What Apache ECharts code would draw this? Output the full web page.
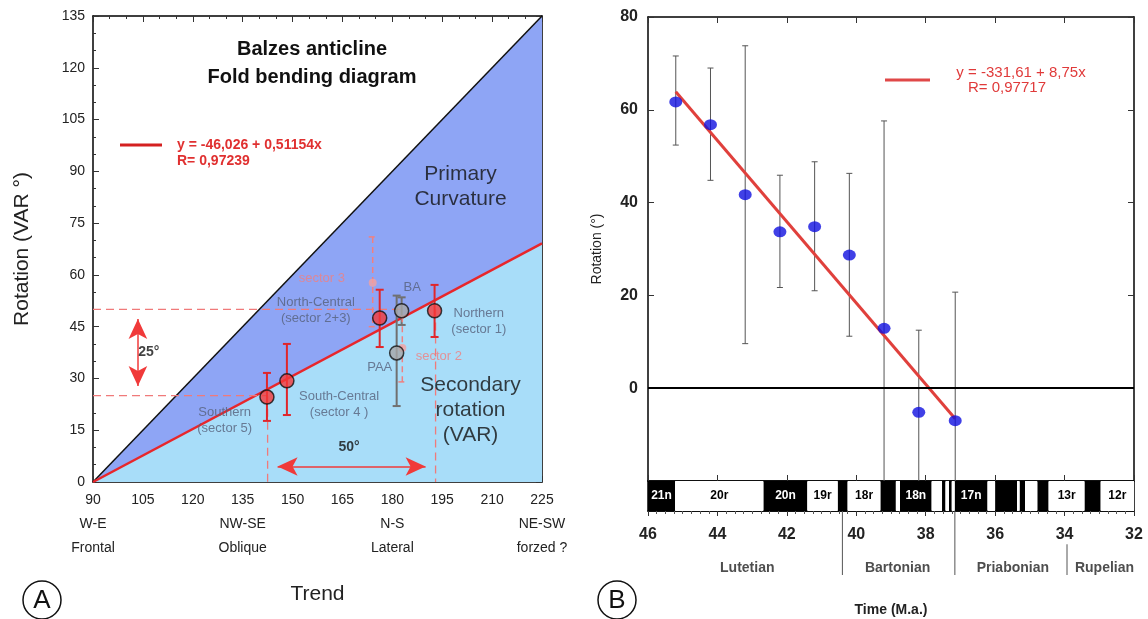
<!DOCTYPE html>
<html>
<head>
<meta charset="utf-8">
<script src="https://cdn.jsdelivr.net/npm/echarts@6/dist/echarts.min.js"></script>
<style>
html, body { margin: 0; padding: 0; background: #fff; }
#chart { width: 1148px; height: 619px; }
</style>
</head>
<body>
<div id="chart"></div>
<script>
// ---- panel A : fold bending diagram ----
var trendTicks = [90, 135, 180, 225];
var trendNames = ['W-E', 'NW-SE', 'N-S', 'NE-SW'];
var trendTypes = ['Frontal', 'Oblique', 'Lateral', 'forzed ?'];

var diagLine = [[90, 0], [225, 135]];
var fitLineA = [[90, 0], [225, 69.1]];

// trend, rotation, low, high
var sectorNames = ['Southern', 'South-Central', 'North-Central', 'Northern'];
var sectorTrend = [142.3, 148.3, 176.2, 192.7];
var sectorRot = [24.6, 29.3, 47.5, 49.6];
var sectorLow = [17.7, 19.4, 39.1, 42];
var sectorHigh = [31.6, 40, 55.7, 57.1];

var siteNames = ['BA', 'PAA'];
var siteTrend = [182.8, 181.3];
var siteRot = [49.6, 37.4];
var siteLow = [45.5, 22];
var siteHigh = [53.5, 54];

var subNames = ['sector 3', 'sector 2'];
var subTrend = [174.1, 183];
var subRot = [57.7, 38.8];
var subLow = [45, 29];
var subHigh = [71, 48];

var guidesA = [
    [[90, 50], [183, 50]],
    [[90, 25], [142.5, 25]],
    [[142.5, 25], [142.5, 0]],
    [[193, 50], [193, 0]]
];

// ---- panel B : rotation vs time ----
var ageB = [45.2, 44.2, 43.2, 42.2, 41.2, 40.2, 39.2, 38.2, 37.15];
var rotB = [61.7, 56.8, 41.7, 33.7, 34.8, 28.7, 12.9, -5.2, -7];
var lowB = [52.4, 44.8, 9.6, 21.7, 21, 11.2, -20, -20, -20];
var highB = [71.6, 69, 73.8, 45.9, 48.8, 46.3, 57.6, 12.5, 20.7];
var fitLineB = [[45.2, 63.9], [37.15, -6.6]];

var chronBounds = [46, 45.22, 42.67, 41.41, 40.53, 40.25, 39.3, 38.86, 38.74, 37.83, 37.53, 37.43,
    37.33, 37.25, 37.16, 36.22, 36.0, 35.37, 35.29, 35.14, 34.78, 34.46, 33.42, 32.96, 32];
var chronNormal = [1, 0, 1, 0, 1, 0, 1, 0, 1, 0, 1, 0, 1, 0, 1, 0, 1, 0, 1, 0, 1, 0, 1, 0];
var chronLabels = ['21n', '20r', '20n', '19r', '', '18r', '', '', '18n', '', '', '', '', '', '17n',
    '', '', '', '', '', '', '13r', '', '12r'];

var stageNames = ['Lutetian', 'Bartonian', 'Priabonian', 'Rupelian'];
var stageCenters = [43.14, 38.81, 35.49, 32.85];
var stageBounds = [40.4, 37.16, 33.93];
var stageBoundTop = [1, 1, 0.48];

var FONT = 'Liberation Sans, Arial, sans-serif';

function zip2(a, b) {
    return a.map(function (v, i) { return [v, b[i]]; });
}

function errorBars(color, width, cap, dash, minY) {
    return function (params, api) {
        var x = api.value(0);
        var top = api.coord([x, api.value(2)]);
        var bot = api.coord([x, api.value(1)]);
        var style = { stroke: color, lineWidth: width, lineDash: dash };
        var kids = [
            { type: 'line', shape: { x1: top[0], y1: top[1], x2: bot[0], y2: bot[1] }, style: style },
            { type: 'line', shape: { x1: top[0] - cap, y1: top[1], x2: top[0] + cap, y2: top[1] }, style: style }
        ];
        if (api.value(1) > minY) {
            kids.push({ type: 'line', shape: { x1: bot[0] - cap, y1: bot[1], x2: bot[0] + cap, y2: bot[1] }, style: style });
        }
        return { type: 'group', children: kids };
    };
}

function errData(xs, lo, hi) {
    return xs.map(function (x, i) { return [x, lo[i], hi[i]]; });
}

function textPoints(xs, ys, names) {
    return xs.map(function (x, i) { return { value: [x, ys[i]], name: names[i] }; });
}

var chart = echarts.init(document.getElementById('chart'));

var frameLine = { show: true, onZero: false, lineStyle: { color: '#000', width: 1.5 } };
var tickIn = { show: true, inside: true, length: 6, lineStyle: { color: '#333' } };
var minorIn = { show: true, splitNumber: 3, length: 3, lineStyle: { color: '#333' } };

var option = {
    animation: false,
    textStyle: { fontFamily: FONT },
    title: {
        text: 'Balzes anticline\nFold bending diagram',
        left: 307, top: 30, textAlign: 'center',
        textStyle: { fontSize: 20, fontWeight: 'bold', color: '#111', lineHeight: 28, fontFamily: FONT }
    },
    grid: [
        { left: 93, top: 16, width: 449, height: 466 },
        { left: 648, top: 17, width: 486, height: 464 },
        { left: 648, top: 481, width: 486, height: 30, show: true, borderColor: '#000', borderWidth: 1.5 },
        { left: 648, top: 511, width: 486, height: 64 }
    ],
    xAxis: [
        {
            gridIndex: 0, type: 'value', min: 90, max: 225, interval: 15, position: 'bottom',
            axisLine: frameLine, axisTick: tickIn, minorTick: minorIn, splitLine: { show: false },
            axisLabel: {
                margin: 6, fontSize: 14, color: '#222', lineHeight: 24,
                formatter: function (v) {
                    var k = trendTicks.indexOf(v);
                    return k < 0 ? String(v) : v + '\n' + trendNames[k] + '\n' + trendTypes[k];
                }
            },
            name: 'Trend', nameLocation: 'middle', nameGap: 102,
            nameTextStyle: { fontSize: 21, color: '#222' }
        },
        {
            gridIndex: 0, type: 'value', min: 90, max: 225, interval: 15, position: 'top',
            axisLine: frameLine, axisTick: tickIn, minorTick: minorIn, splitLine: { show: false },
            axisLabel: { show: false }
        },
        {
            gridIndex: 1, type: 'value', min: 32, max: 46, interval: 2, inverse: true, position: 'bottom',
            axisLine: frameLine, axisTick: tickIn, splitLine: { show: false }, axisLabel: { show: false }
        },
        {
            gridIndex: 1, type: 'value', min: 32, max: 46, interval: 2, inverse: true, position: 'top',
            axisLine: frameLine, axisTick: tickIn, splitLine: { show: false }, axisLabel: { show: false }
        },
        {
            gridIndex: 2, type: 'value', min: 32, max: 46, interval: 2, inverse: true, position: 'bottom',
            axisLine: frameLine,
            axisTick: { show: true, length: 5, lineStyle: { color: '#333' } },
            minorTick: { show: true, splitNumber: 8, length: 3, lineStyle: { color: '#555' } },
            splitLine: { show: false },
            axisLabel: { margin: 16, fontSize: 16, fontWeight: 'bold', color: '#222' },
            name: 'Time (M.a.)', nameLocation: 'middle', nameGap: 92,
            nameTextStyle: { fontSize: 14, fontWeight: 'bold', color: '#222' }
        },
        {
            gridIndex: 3, type: 'value', min: 32, max: 46, inverse: true, show: false
        }
    ],
    yAxis: [
        {
            gridIndex: 0, type: 'value', min: 0, max: 135, interval: 15, position: 'left',
            axisLine: frameLine, axisTick: tickIn, minorTick: minorIn, splitLine: { show: false },
            axisLabel: { margin: 8, fontSize: 14, color: '#222' },
            name: 'Rotation (VAR °)', nameLocation: 'middle', nameGap: 60,
            nameTextStyle: { fontSize: 21, color: '#222' }
        },
        {
            gridIndex: 0, type: 'value', min: 0, max: 135, interval: 15, position: 'right',
            axisLine: frameLine, axisTick: tickIn, minorTick: minorIn, splitLine: { show: false },
            axisLabel: { show: false }
        },
        {
            gridIndex: 1, type: 'value', min: -20, max: 80, interval: 20, position: 'left',
            axisLine: frameLine, axisTick: tickIn, splitLine: { show: false },
            axisLabel: {
                margin: 10, fontSize: 16, fontWeight: 'bold', color: '#222',
                formatter: function (v) { return v < 0 ? '' : String(v); }
            },
            name: 'Rotation (°)', nameLocation: 'middle', nameGap: 44,
            nameTextStyle: { fontSize: 14, color: '#222' }
        },
        {
            gridIndex: 1, type: 'value', min: -20, max: 80, interval: 20, position: 'right',
            axisLine: frameLine, axisTick: tickIn, splitLine: { show: false }, axisLabel: { show: false }
        },
        { gridIndex: 2, type: 'value', min: 0, max: 1, show: false },
        { gridIndex: 3, type: 'value', min: 0, max: 1, show: false }
    ],
    series: []
};

var s = option.series;

// panel A fills
s.push({
    type: 'line', xAxisIndex: 0, yAxisIndex: 0, data: diagLine, symbol: 'none', z: 1,
    lineStyle: { color: '#111', width: 1.5 },
    areaStyle: { color: '#8ea5f5', opacity: 1 }
});
s.push({
    type: 'line', xAxisIndex: 0, yAxisIndex: 0, data: fitLineA, symbol: 'none', z: 2,
    lineStyle: { color: '#e8262b', width: 2.5 },
    areaStyle: { color: '#a8ddf9', opacity: 1 }
});

guidesA.forEach(function (seg) {
    s.push({
        type: 'line', xAxisIndex: 0, yAxisIndex: 0, data: seg, symbol: 'none', z: 3,
        lineStyle: { color: '#f07a7a', width: 1.3, type: [8, 5] }
    });
});

// arrows 25° and 50°
s.push({
    type: 'line', xAxisIndex: 0, yAxisIndex: 0, data: [], z: 4,
    markLine: {
        silent: true, symbol: ['arrow', 'arrow'], symbolSize: [14, 20],
        lineStyle: { color: '#f03a3a', width: 1.5, type: 'solid' },
        label: { show: false },
        data: [
            [{ coord: [103.5, 47.2] }, { coord: [103.5, 27.8] }],
            [{ coord: [145.5, 4.5] }, { coord: [190, 4.5] }]
        ]
    }
});

s.push({
    type: 'custom', xAxisIndex: 0, yAxisIndex: 0, z: 5,
    renderItem: errorBars('#e0262b', 2, 4, null, -999),
    data: errData(sectorTrend, sectorLow, sectorHigh)
});
s.push({
    type: 'custom', xAxisIndex: 0, yAxisIndex: 0, z: 5,
    renderItem: errorBars('#707070', 2, 4, null, -999),
    data: errData(siteTrend, siteLow, siteHigh)
});
s.push({
    type: 'custom', xAxisIndex: 0, yAxisIndex: 0, z: 5,
    renderItem: errorBars('#f08080', 1.5, 4, [6, 4], -999),
    data: errData(subTrend, subLow, subHigh)
});

s.push({
    type: 'scatter', xAxisIndex: 0, yAxisIndex: 0, z: 6, symbolSize: 8,
    itemStyle: { color: '#f4a0a0' }, data: zip2(subTrend, subRot)
});
s.push({
    type: 'scatter', xAxisIndex: 0, yAxisIndex: 0, z: 6, symbolSize: 14,
    itemStyle: { color: '#a8a8a8', borderColor: '#111', borderWidth: 1.5 }, data: zip2(siteTrend, siteRot)
});
s.push({
    type: 'scatter', xAxisIndex: 0, yAxisIndex: 0, z: 6, symbolSize: 14,
    itemStyle: { color: '#f53a3a', borderColor: '#111', borderWidth: 1.5 }, data: zip2(sectorTrend, sectorRot)
});

// text annotations placed in data coordinates
function labelSeries(points, style) {
    return {
        type: 'scatter', xAxisIndex: 0, yAxisIndex: 0, z: 7, symbolSize: 0, silent: true,
        data: points,
        label: Object.assign({ show: true, position: 'inside', formatter: '{b}' }, style)
    };
}
s.push(labelSeries(textPoints(
    [157, 164, 129.6, 206],
    [49.6, 22.6, 17.7, 46.4],
    ['North-Central\n(sector 2+3)', 'South-Central\n(sector 4 )', 'Southern\n(sector 5)', 'Northern\n(sector 1)']
), { color: '#56607a', fontSize: 13, lineHeight: 16 }));
s.push(labelSeries(textPoints([158.8, 194], [59.1, 36.5], subNames), { color: '#f08080', fontSize: 13 }));
s.push(labelSeries(textPoints([186, 176.2], [56.5, 33.3], siteNames), { color: '#56607a', fontSize: 13 }));
s.push(labelSeries(textPoints([200.5, 203.5], [85.5, 20.9], ['Primary\nCurvature', 'Secondary\nrotation\n(VAR)']),
    { color: '#111', fontSize: 21, lineHeight: 25 }));
s.push(labelSeries(textPoints([106.8, 167], [37.7, 10], ['25°', '50°']),
    { color: '#111', fontSize: 14, fontWeight: 'bold' }));

// panel B
s.push({
    type: 'custom', xAxisIndex: 2, yAxisIndex: 2, z: 3,
    renderItem: errorBars('#555', 1, 3, null, -20),
    data: errData(ageB, lowB, highB)
});
s.push({
    type: 'line', xAxisIndex: 2, yAxisIndex: 2, data: fitLineB, symbol: 'none', z: 4,
    lineStyle: { color: '#e0403c', width: 3 },
    markLine: {
        silent: true, symbol: 'none', label: { show: false },
        lineStyle: { color: '#000', width: 2, type: 'solid' },
        data: [{ yAxis: 0 }]
    }
});
s.push({
    type: 'scatter', xAxisIndex: 2, yAxisIndex: 2, z: 5, symbolSize: [13, 11],
    itemStyle: { color: '#1010e0' }, data: zip2(ageB, rotB)
});

// polarity bar
s.push({
    type: 'custom', xAxisIndex: 4, yAxisIndex: 4, z: 2,
    data: chronNormal.map(function (n, i) { return [chronBounds[i], chronBounds[i + 1], n]; }),
    renderItem: function (params, api) {
        var i = params.dataIndex;
        var a = api.coord([api.value(0), 1]);
        var b = api.coord([api.value(1), 0]);
        var normal = api.value(2) === 1;
        var kids = [{
            type: 'rect',
            shape: { x: a[0], y: a[1], width: b[0] - a[0], height: b[1] - a[1] },
            style: { fill: normal ? '#000' : '#fff' }
        }];
        if (chronLabels[i]) {
            kids.push({
                type: 'text',
                style: {
                    text: chronLabels[i], x: (a[0] + b[0]) / 2, y: (a[1] + b[1]) / 2,
                    align: 'center', verticalAlign: 'middle',
                    fill: normal ? '#fff' : '#000', font: 'bold 12px ' + FONT
                }
            });
        }
        return { type: 'group', children: kids };
    }
});

// stage boundaries and names
s.push({
    type: 'custom', xAxisIndex: 5, yAxisIndex: 5, silent: true,
    data: zip2(stageBounds, stageBoundTop),
    renderItem: function (params, api) {
        var t = api.coord([api.value(0), api.value(1)]);
        var b = api.coord([api.value(0), 0]);
        return { type: 'line', shape: { x1: t[0], y1: t[1], x2: b[0], y2: b[1] }, style: { stroke: '#555', lineWidth: 1 } };
    }
});
s.push({
    type: 'scatter', xAxisIndex: 5, yAxisIndex: 5, symbolSize: 0, silent: true,
    data: stageCenters.map(function (x, i) { return { value: [x, 0.11], name: stageNames[i] }; }),
    label: { show: true, position: 'inside', formatter: '{b}', fontSize: 14, fontWeight: 'bold', color: '#222' }
});

option.graphic = [
    { type: 'line', shape: { x1: 120, y1: 145, x2: 162, y2: 145 }, style: { stroke: '#d42020', lineWidth: 3 } },
    { type: 'text', x: 177, y: 145, style: { text: 'y = -46,026 + 0,51154x', fill: '#e03030', font: 'bold 14px ' + FONT, verticalAlign: 'middle' } },
    { type: 'text', x: 177, y: 161, style: { text: 'R= 0,97239', fill: '#e03030', font: 'bold 14px ' + FONT, verticalAlign: 'middle' } },
    { type: 'line', shape: { x1: 885, y1: 80, x2: 930, y2: 80 }, style: { stroke: '#e04848', lineWidth: 3 } },
    { type: 'text', x: 1021, y: 73, style: { text: 'y = -331,61 + 8,75x', fill: '#e03a3a', font: '15px ' + FONT, align: 'center', verticalAlign: 'middle' } },
    { type: 'text', x: 1007, y: 88, style: { text: 'R= 0,97717', fill: '#e03a3a', font: '15px ' + FONT, align: 'center', verticalAlign: 'middle' } },
    { type: 'circle', shape: { cx: 42, cy: 600, r: 19 }, style: { fill: 'none', stroke: '#111', lineWidth: 1.5 } },
    { type: 'text', x: 42, y: 601, style: { text: 'A', fill: '#111', font: '26px ' + FONT, align: 'center', verticalAlign: 'middle' } },
    { type: 'circle', shape: { cx: 617, cy: 600, r: 19 }, style: { fill: 'none', stroke: '#111', lineWidth: 1.5 } },
    { type: 'text', x: 617, y: 601, style: { text: 'B', fill: '#111', font: '26px ' + FONT, align: 'center', verticalAlign: 'middle' } }
];

chart.setOption(option);
window.onresize = chart.resize;
</script>
</body>
</html>
